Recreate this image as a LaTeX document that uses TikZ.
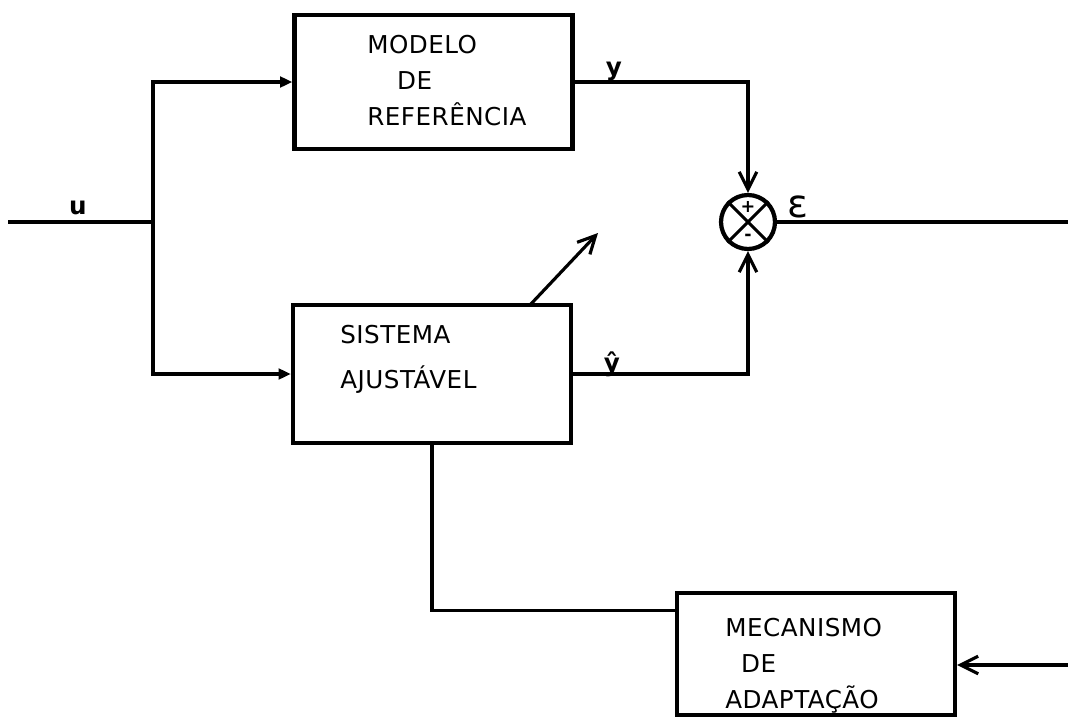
\documentclass[tikz,border=0pt]{standalone}
\usepackage{fontspec}
\setmainfont{DejaVu Sans}[LetterSpace=2]
\usetikzlibrary{arrows.meta,calc}

\begin{document}
\begin{tikzpicture}[x=1cm, y=1cm,
  bloco/.style={draw, line width=2.4pt, minimum width=5.56cm, inner sep=0pt},
  rotulo/.style={align=left, inner sep=0pt, font=\fontsize{14}{20.5}\selectfont},
  linha/.style={line width=1.8pt},
  cheia/.style={linha, -{Triangle[length=7pt,width=6pt]}},
  aberta/.style={linha, -{Straight Barb[length=10pt,width=10pt,line width=1.8pt]}}]

\useasboundingbox (0,0) rectangle (21.36,-14.52);

% BLOCK 1 (modelo de referencia)
\node[bloco, minimum height=2.68cm] (modelo) at (8.67,-1.64) {};
\node[rotulo, anchor=north west] (modelo-txt) at (7.34,-0.70)
  {MODELO\\\hspace*{17pt}DE\\REFERÊNCIA};

% BLOCK 2 (sistema ajustavel)
\node[bloco, minimum height=2.76cm] (sistema) at (8.64,-7.48) {};
\node[rotulo, anchor=north west, font=\fontsize{14}{25.5}\selectfont]
  (sistema-txt) at (6.80,-6.50) {SISTEMA\\AJUSTÁVEL};

% BLOCK 3 (mecanismo de adaptacao)
\node[bloco, minimum height=2.44cm] (mecanismo) at (16.32,-13.08) {};
\node[rotulo, anchor=north west] (mecanismo-txt) at (14.50,-12.36)
  {MECANISMO\\\hspace*{9pt}DE\\ADAPTAÇÃO};

% BLOCK 4 (comparador)
\node[draw, circle, line width=2.4pt, minimum size=1.08cm, inner sep=0pt] (soma) at (14.96,-4.44) {};
\draw[line width=1.8pt] (soma.north west) -- (soma.south east);
\draw[line width=1.8pt] (soma.north east) -- (soma.south west);
\node[font=\bfseries, inner sep=0pt] (mais) at ($(soma.center)+(0,0.30)$) {+};
\node[font=\bfseries, inner sep=0pt] (menos) at ($(soma.center)+(0,-0.30)$) {-};

% pontos livres
\coordinate (entrada) at (0.16,-4.44);
\coordinate (ramo) at (3.06,-4.44);
\coordinate (erro) at (21.36,-4.44);
\coordinate (realim) at (21.36,-13.30);
\coordinate (ajuste-ini) at (10.60,-6.10);
\coordinate (ajuste-fim) at (11.96,-4.66);
\coordinate (mec-in) at ($(mecanismo.north west)+(0,-0.40)$);

% ligacoes
\draw[linha] (entrada) -- (ramo);
\draw[cheia] (ramo) |- (modelo.west);
\draw[cheia] (ramo) |- (sistema.west);
\draw[aberta] (modelo.east) -| (soma.north);
\draw[aberta] (sistema.east) -| (soma.south);
\draw[linha] (soma.east) -- (erro);
\draw[aberta] (ajuste-ini) -- (ajuste-fim);
\draw[linha] (sistema.south) |- (mec-in);
\draw[aberta] (realim) -- (realim -| mecanismo.east);

% textos das ligacoes
\node[font=\fontsize{14}{16}\selectfont\bfseries] (u) at (1.56,-4.16) {u};
\node[font=\fontsize{14}{16}\selectfont\bfseries] (y) at (12.28,-1.42) {y};
\node[font=\fontsize{14}{16}\selectfont\bfseries] (yhat) at (12.24,-7.28) {ŷ};
\node[font=\fontsize{22}{24}\selectfont] (eps) at (15.95,-4.14) {ε};

\end{tikzpicture}
\end{document}
